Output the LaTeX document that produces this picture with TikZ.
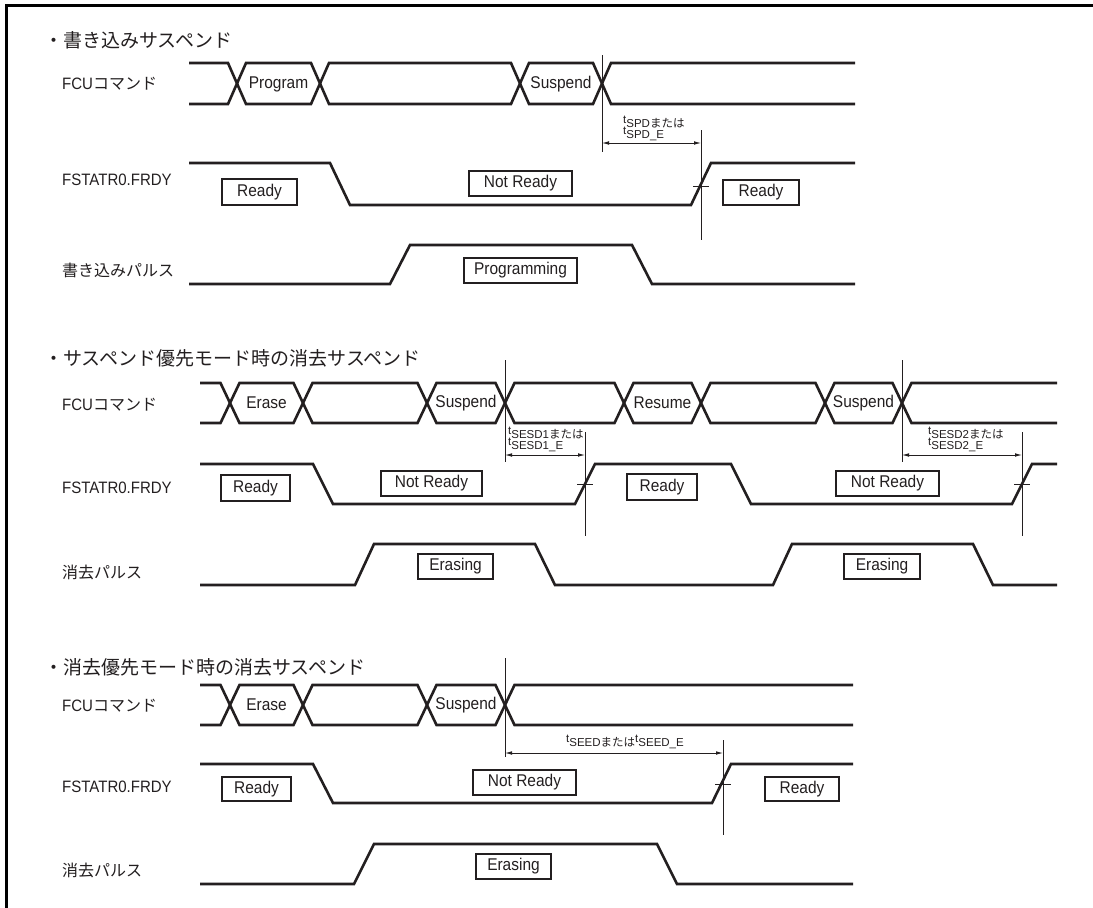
\documentclass[tikz,border=0pt]{standalone}
\usepackage{fontspec}
\setmainfont{Liberation Sans}
\newfontfamily\cond[FakeStretch=0.91]{Liberation Sans}
\newfontfamily\jp{Noto Sans CJK JP}
\usetikzlibrary{arrows.meta}
\definecolor{ink}{HTML}{231F20}
\newcommand{\jl}[1]{{\jp\fontsize{16}{19}\selectfont #1}}
\begin{document}
\begin{tikzpicture}[x=1pt,y=-1pt,
  sig/.style={line width=2.6pt,draw=ink},
  frame/.style={line width=2.4pt,draw=black},
  tbox/.style={draw=ink,line width=2.4pt,inner sep=0pt,text=ink,font=\cond\fontsize{17}{20}\selectfont},
  lbl/.style={anchor=west,inner sep=0pt,text=ink,font=\cond\fontsize{16.5}{19}\selectfont},
  ttl/.style={anchor=west,inner sep=0pt,text=ink,font=\jp\fontsize{19}{23}\selectfont},
  intext/.style={inner sep=0pt,text=ink,font=\cond\fontsize{17}{20}\selectfont},
  ann/.style={anchor=west,inner sep=0pt,text=ink,font=\fontsize{11.5}{13}\selectfont},
  tline/.style={line width=0.9pt,draw=ink},
  dim/.style={line width=0.8pt,draw=ink,{Latex[length=7pt,width=3.6pt]}-{Latex[length=7pt,width=3.6pt]}}
]
\useasboundingbox (0,0) rectangle (1093,908);
\fill[white] (0,0) rectangle (1093,908);
% frame (top and left only)
\draw[frame] (6.5,908) -- (6.5,5.5) -- (1093,5.5);

% ================= Section 1 =================
\node[ttl] (t1) at (44,40) {・書き込みサスペンド};
\node[lbl] (l1a) at (62,84) {FCU\jl{コマンド}};
\node[lbl] (l1b) at (62,180) {FSTATR0.FRDY};
\node[lbl] (l1c) at (62,270) {\jl{書き込みパルス}};

\draw[sig] (189,63) -- (228,63) -- (246,104) -- (311,104) -- (329,63) -- (511,63) -- (529,104) -- (593,104) -- (611,63) -- (855,63);
\draw[sig] (189,104) -- (228,104) -- (246,63) -- (311,63) -- (329,104) -- (511,104) -- (529,63) -- (593,63) -- (611,104) -- (855,104);
\node[intext] (c1a) at (278.5,84) {Program};
\node[intext] (c1b) at (561,84) {Suspend};

\draw[sig] (189,163) -- (330,163) -- (350,205) -- (691,205) -- (711,163) -- (855,163);
\node[tbox,minimum width=75pt,minimum height=25.5pt] (r1a) at (259.5,192) {Ready};
\node[tbox,minimum width=102.5pt,minimum height=24.5pt] (r1b) at (520.5,183.5) {Not Ready};
\node[tbox,minimum width=75.5pt,minimum height=24.5pt] (r1c) at (761,192.5) {Ready};

\draw[sig] (189,284) -- (390,284) -- (410,245) -- (632,245) -- (652,284) -- (855,284);
\node[tbox,minimum width=112.5pt,minimum height=24.5pt] (p1) at (520.5,270.5) {Programming};

\coordinate (v1t) at (602,55);  \coordinate (v1b) at (602,152);
\coordinate (w1t) at (701,130); \coordinate (w1b) at (701,240);
\draw[tline] (v1t) -- (v1b);
\draw[tline] (w1t) -- (w1b);
\coordinate (a1l) at (602,143); \coordinate (a1r) at (701,143);
\draw[dim] (a1l) -- (a1r);
\coordinate (k1l) at (693,186); \coordinate (k1r) at (709,186);
\draw[tline] (k1l) -- (k1r);
\node[ann] (n1a) at (623,122) {\raisebox{3.5pt}{t}SPD{\jp または}};
\node[ann] (n1b) at (623,134) {\raisebox{3.5pt}{t}SPD\_E};

% ================= Section 2 =================
\node[ttl] (t2) at (44,358) {・サスペンド優先モード時の消去サスペンド};
\node[lbl] (l2a) at (62,405) {FCU\jl{コマンド}};
\node[lbl] (l2b) at (62,488) {FSTATR0.FRDY};
\node[lbl] (l2c) at (62,572) {\jl{消去パルス}};

\draw[sig] (200,383) -- (220.5,383) -- (239.5,423) -- (293.5,423) -- (312.5,383) -- (417.5,383) -- (436.5,423) -- (495.5,423) -- (514.5,383) -- (614.5,383) -- (633.5,423) -- (691.5,423) -- (710.5,383) -- (815.5,383) -- (834.5,423) -- (892.5,423) -- (911.5,383) -- (1057,383);
\draw[sig] (200,423) -- (220.5,423) -- (239.5,383) -- (293.5,383) -- (312.5,423) -- (417.5,423) -- (436.5,383) -- (495.5,383) -- (514.5,423) -- (614.5,423) -- (633.5,383) -- (691.5,383) -- (710.5,423) -- (815.5,423) -- (834.5,383) -- (892.5,383) -- (911.5,423) -- (1057,423);
\node[intext] (c2a) at (266.5,403) {Erase};
\node[intext] (c2b) at (466,403) {Suspend};
\node[intext] (c2c) at (662.5,403) {Resume};
\node[intext] (c2d) at (863.5,403) {Suspend};

\draw[sig] (200,464) -- (313,464) -- (333,504) -- (575,504) -- (595,464) -- (731,464) -- (751,504) -- (1012,504) -- (1032,464) -- (1057,464);
\node[tbox,minimum width=68.5pt,minimum height=25.5pt] (r2a) at (255.5,488) {Ready};
\node[tbox,minimum width=100.5pt,minimum height=24.5pt] (r2b) at (431.5,483.5) {Not Ready};
\node[tbox,minimum width=69.5pt,minimum height=25.5pt] (r2c) at (662,487) {Ready};
\node[tbox,minimum width=102.5pt,minimum height=24.5pt] (r2d) at (887.5,483.5) {Not Ready};

\draw[sig] (200,585) -- (355,585) -- (374,544) -- (535,544) -- (555,585) -- (773,585) -- (792,544) -- (973,544) -- (993,585) -- (1057,585);
\node[tbox,minimum width=74.5pt,minimum height=24.5pt] (e2a) at (455.5,566.5) {Erasing};
\node[tbox,minimum width=75.5pt,minimum height=24.5pt] (e2b) at (882,566.5) {Erasing};

\coordinate (v2t) at (505,360);  \coordinate (v2b) at (505,462);
\coordinate (w2t) at (585,432);  \coordinate (w2b) at (585,536);
\coordinate (v3t) at (902,360);  \coordinate (v3b) at (902,462);
\coordinate (w3t) at (1022,432); \coordinate (w3b) at (1022,536);
\draw[tline] (v2t) -- (v2b);
\draw[tline] (w2t) -- (w2b);
\draw[tline] (v3t) -- (v3b);
\draw[tline] (w3t) -- (w3b);
\coordinate (a2l) at (505,455); \coordinate (a2r) at (585,455);
\coordinate (a3l) at (902,455); \coordinate (a3r) at (1022,455);
\draw[dim] (a2l) -- (a2r);
\draw[dim] (a3l) -- (a3r);
\coordinate (k2l) at (577,484); \coordinate (k2r) at (593,484);
\coordinate (k3l) at (1014,484); \coordinate (k3r) at (1030,484);
\draw[tline] (k2l) -- (k2r);
\draw[tline] (k3l) -- (k3r);
\node[ann] (n2a) at (508,433) {\raisebox{3.5pt}{t}SESD1{\jp または}};
\node[ann] (n2b) at (508,445) {\raisebox{3.5pt}{t}SESD1\_E};
\node[ann] (n3a) at (928,433) {\raisebox{3.5pt}{t}SESD2{\jp または}};
\node[ann] (n3b) at (928,445) {\raisebox{3.5pt}{t}SESD2\_E};

% ================= Section 3 =================
\node[ttl] (t3) at (44,667) {・消去優先モード時の消去サスペンド};
\node[lbl] (l3a) at (62,706) {FCU\jl{コマンド}};
\node[lbl] (l3b) at (62,787) {FSTATR0.FRDY};
\node[lbl] (l3c) at (62,870) {\jl{消去パルス}};

\draw[sig] (200,685) -- (220.5,685) -- (239.5,725) -- (293.5,725) -- (312.5,685) -- (417.5,685) -- (436.5,725) -- (495.5,725) -- (514.5,685) -- (853,685);
\draw[sig] (200,725) -- (220.5,725) -- (239.5,685) -- (293.5,685) -- (312.5,725) -- (417.5,725) -- (436.5,685) -- (495.5,685) -- (514.5,725) -- (853,725);
\node[intext] (c3a) at (266.5,705) {Erase};
\node[intext] (c3b) at (466,705) {Suspend};

\draw[sig] (200,764) -- (313,764) -- (333,803) -- (712,803) -- (731,764) -- (853,764);
\node[tbox,minimum width=68.5pt,minimum height=23.5pt] (r3a) at (256.5,789) {Ready};
\node[tbox,minimum width=102.5pt,minimum height=24.5pt] (r3b) at (524.5,782.5) {Not Ready};
\node[tbox,minimum width=73.5pt,minimum height=23.5pt] (r3c) at (802,789) {Ready};

\draw[sig] (200,884) -- (354,884) -- (374,844) -- (657,844) -- (677,884) -- (853,884);
\node[tbox,minimum width=74.5pt,minimum height=24.5pt] (e3a) at (513.5,866.5) {Erasing};

\coordinate (v4t) at (505,658);  \coordinate (v4b) at (505,757);
\coordinate (w4t) at (723,740);  \coordinate (w4b) at (723,835);
\draw[tline] (v4t) -- (v4b);
\draw[tline] (w4t) -- (w4b);
\coordinate (a4l) at (505,753); \coordinate (a4r) at (723,753);
\draw[dim] (a4l) -- (a4r);
\coordinate (k4l) at (715,784); \coordinate (k4r) at (731,784);
\draw[tline] (k4l) -- (k4r);
\node[ann] (n4) at (566,742) {\raisebox{3.5pt}{t}SEED{\jp または}\raisebox{3.5pt}{t}SEED\_E};
\end{tikzpicture}
\end{document}
